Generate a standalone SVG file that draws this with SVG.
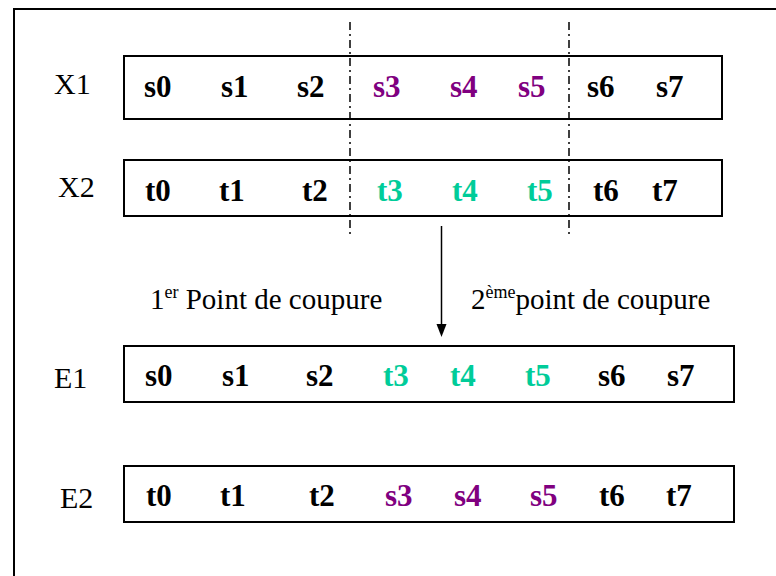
<svg xmlns="http://www.w3.org/2000/svg" width="776" height="576" viewBox="0 0 776 576">
<style>
.box{fill:none;stroke:#000;stroke-width:2}
.cut{stroke:#000;stroke-width:1.5;stroke-dasharray:8 4 2 4;fill:none}
text{font-family:'Liberation Serif','DejaVu Serif',serif}
.lbl{font-size:30px;fill:#000}
.c{font-size:31px;font-weight:bold;fill:#000}
.p{fill:#800080}
.g{fill:#00CC99}
.cap{font-size:29px;fill:#000}
</style>
<rect x="14" y="9" width="800" height="600" fill="#fff" stroke="#000" stroke-width="2"/>
<g id="X1">
<rect class="box" x="124" y="56" width="598" height="63"/>
<text class="lbl" x="54" y="94">X1</text>
<text class="c" y="97"><tspan x="144">s0</tspan><tspan x="221">s1</tspan><tspan x="297">s2</tspan><tspan class="p" x="373">s3</tspan><tspan class="p" x="450">s4</tspan><tspan class="p" x="518">s5</tspan><tspan x="587">s6</tspan><tspan x="656">s7</tspan></text>
</g>
<g id="X2">
<rect class="box" x="124" y="160" width="598" height="56"/>
<text class="lbl" x="58" y="197">X2</text>
<text class="c" y="201"><tspan x="145">t0</tspan><tspan x="219">t1</tspan><tspan x="302">t2</tspan><tspan class="g" x="377">t3</tspan><tspan class="g" x="452">t4</tspan><tspan class="g" x="527">t5</tspan><tspan x="593">t6</tspan><tspan x="652">t7</tspan></text>
</g>
<g id="E1">
<rect class="box" x="124" y="346" width="610" height="56"/>
<text class="lbl" x="54" y="388">E1</text>
<text class="c" y="386"><tspan x="145">s0</tspan><tspan x="222">s1</tspan><tspan x="306">s2</tspan><tspan class="g" x="383">t3</tspan><tspan class="g" x="450">t4</tspan><tspan class="g" x="525">t5</tspan><tspan x="598">s6</tspan><tspan x="667">s7</tspan></text>
</g>
<g id="E2">
<rect class="box" x="124" y="466" width="610" height="56"/>
<text class="lbl" x="60" y="508">E2</text>
<text class="c" y="506"><tspan x="146">t0</tspan><tspan x="220">t1</tspan><tspan x="309">t2</tspan><tspan class="p" x="385">s3</tspan><tspan class="p" x="454">s4</tspan><tspan class="p" x="530">s5</tspan><tspan x="599">t6</tspan><tspan x="666">t7</tspan></text>
</g>
<g id="captions">
<text class="cap" x="150" y="309">1<tspan font-size="18" dy="-11">er</tspan><tspan dy="11"> Point de coupure</tspan></text>
<text class="cap" x="471" y="309">2<tspan font-size="18" dy="-11">ème</tspan><tspan dy="11">point de coupure</tspan></text>
</g>
<g id="connectors">
<line class="cut" x1="350" y1="22" x2="350" y2="238"/>
<line class="cut" x1="569" y1="22" x2="569" y2="238"/>
<line x1="441.5" y1="226" x2="441.5" y2="326" stroke="#000" stroke-width="1.5"/>
<polygon points="436.5,324 446.5,324 441.5,337" fill="#000"/>
</g>
</svg>
